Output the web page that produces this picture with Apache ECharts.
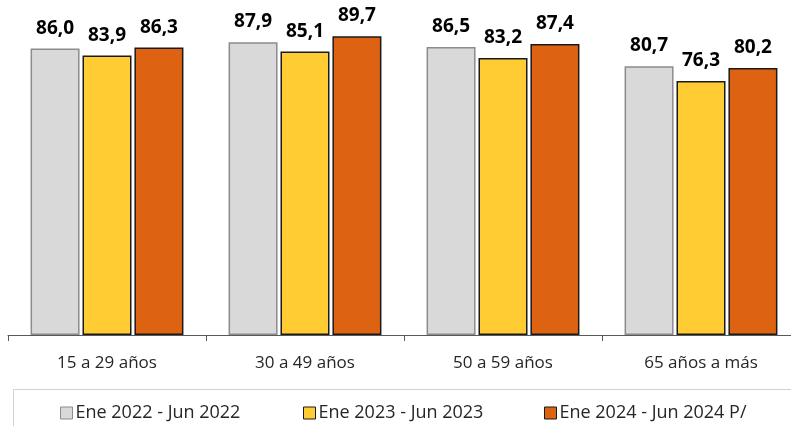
<!DOCTYPE html>
<html><head><meta charset="utf-8">
<script src="https://cdn.jsdelivr.net/npm/echarts@6/dist/echarts.min.js"></script>
<style>html,body{margin:0;padding:0;background:#fff;overflow:hidden}#c{width:800px;height:426px}</style>
</head><body><div id="c"></div>
<script>
const categories = ['15 a 29 años', '30 a 49 años', '50 a 59 años', '65 años a más'];
const seriesNames = ['Ene 2022 - Jun 2022', 'Ene 2023 - Jun 2023', 'Ene 2024 - Jun 2024 P/'];
const values2022 = [86.0, 87.9, 86.5, 80.7];
const values2023 = [83.9, 85.1, 83.2, 76.3];
const values2024 = [86.3, 89.7, 87.4, 80.2];

const colors = ['#d9d9d9', '#ffcc33', '#dd6212'];
const borders = ['#8c8c8c', '#1a1a1a', '#1a1a1a'];
const data = [values2022, values2023, values2024];
const legendLeft = [55, 298, 539];
const font = 'Open Sans';

const chart = echarts.init(document.getElementById('c'), null, {renderer: 'canvas'});
chart.setOption({
  animation: false,
  textStyle: {fontFamily: font},
  grid: {left: 8, right: 0, top: 2, bottom: 91, containLabel: false},
  legend: seriesNames.map((n, i) => ({
    data: [{name: n, itemStyle: {color: colors[i], borderColor: borders[i], borderWidth: 1}}],
    left: legendLeft[i], top: 399, itemWidth: 12, itemHeight: 12, itemGap: 0,
    icon: 'rect',
    textStyle: {fontSize: 18, color: '#262626', fontFamily: font, padding: [0, 0, 0, -2]}
  })),
  graphic: [{
    type: 'rect', shape: {x: 13.5, y: 389.5, width: 800, height: 60},
    style: {fill: 'none', stroke: '#d0d0d0', lineWidth: 1}, silent: true
  }],
  xAxis: {
    type: 'category', data: categories, boundaryGap: true,
    axisLine: {lineStyle: {color: '#595959', width: 1}},
    axisTick: {show: true, length: 6, lineStyle: {color: '#595959'}},
    axisLabel: {fontSize: 17, color: '#262626', margin: 20, fontFamily: font}
  },
  yAxis: {type: 'value', min: 0, max: 100, show: false, splitLine: {show: false}},
  series: data.map((d, i) => ({
    name: seriesNames[i], type: 'bar', data: d,
    barWidth: 49, barGap: '6%',
    itemStyle: {color: colors[i], borderColor: borders[i], borderWidth: 1.5},
    label: {
      show: true, position: 'top', distance: 11,
      fontSize: 19, fontWeight: 'bold', color: '#000', fontFamily: font,
      formatter: p => p.value.toFixed(1).replace('.', ',')
    }
  }))
});
</script></body></html>
